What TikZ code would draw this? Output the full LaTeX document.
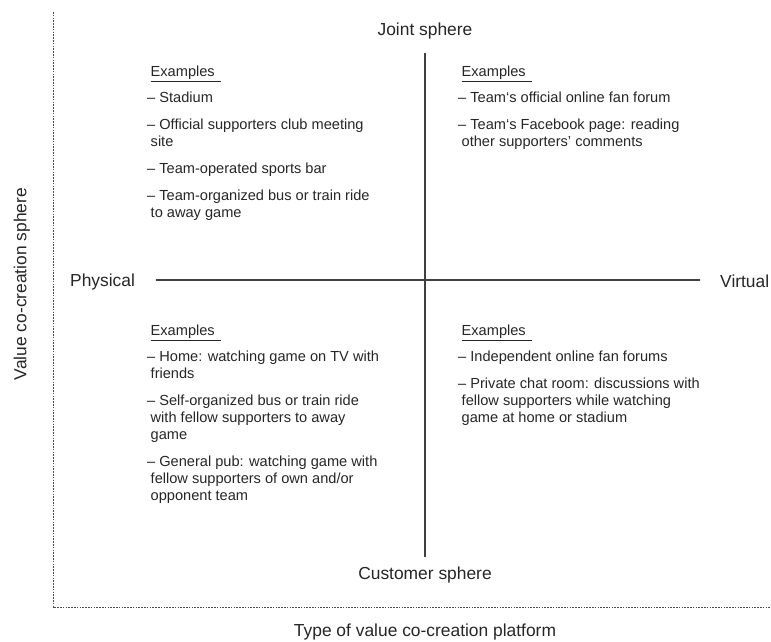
\documentclass[tikz,border=0pt]{standalone}
\usepackage{fontspec}
\setmainfont{Liberation Sans}
\newcommand\myind{\hspace*{3.5pt}}
\newcommand\exhead{\myind\underline{Examples\ \,}}
\begin{document}
\begin{tikzpicture}[x=1pt,y=-1pt,
  axislabel/.style={inner sep=0pt,font=\fontsize{17.4}{20}\selectfont,text=black!85},
  exblock/.style={inner sep=0pt,anchor=north west,align=left,
    font=\fontsize{14.6}{17}\selectfont,text=black!85},
  axisline/.style={line width=1.2pt,draw=black!75},
  frameline/.style={line width=0.9pt,draw=black!70,dash pattern=on 1.6pt off 1.2pt}]
\useasboundingbox (0,0) rectangle (771,641);
% frame (dotted axes)
\coordinate (ftop) at (53,12);
\coordinate (fcorner) at (53,607);
\coordinate (fright) at (770,607);
\draw[frameline] (ftop) -- (fcorner) -- (fright);
% axis labels
\node[axislabel] (joint) at (425,31) {Joint sphere};
\node[axislabel] (customer) at (425,575) {Customer sphere};
\node[axislabel,anchor=west] (physical) at (70,282) {Physical};
\node[axislabel,anchor=west] (virtual) at (720,281) {Virtual};
\node[axislabel,rotate=90] (vlabel) at (22,284) {Value co-creation sphere};
\node[axislabel] (hlabel) at (425,632) {Type of value co-creation platform};
% solid axes
\coordinate (vtop) at (425,53);
\coordinate (vbot) at (425,557);
\coordinate (hleft) at (156,280);
\coordinate (hright) at (700,280);
\draw[axisline] (vtop) -- (vbot);
\draw[axisline] (hleft) -- (hright);
% quadrant texts
\node[exblock] (tl) at (147,65.5) {\exhead\\[9pt]
– Stadium\\[10pt]
– Official supporters club meeting\\
\myind site\\[10pt]
– Team-operated sports bar\\[10pt]
– Team-organized bus or train ride\\
\myind to away game};
\node[exblock] (tr) at (458,65.5) {\exhead\\[9pt]
– Team‘s official online fan forum\\[10pt]
– Team‘s Facebook page: reading\\
\myind other supporters’ comments};
\node[exblock] (bl) at (147,324.5) {\exhead\\[9pt]
– Home: watching game on TV with\\
\myind friends\\[10pt]
– Self-organized bus or train ride\\
\myind with fellow supporters to away\\
\myind game\\[10pt]
– General pub: watching game with\\
\myind fellow supporters of own and/or\\
\myind opponent team};
\node[exblock] (br) at (458,324.5) {\exhead\\[9pt]
– Independent online fan forums\\[10pt]
– Private chat room: discussions with\\
\myind fellow supporters while watching\\
\myind game at home or stadium};
\end{tikzpicture}
\end{document}
